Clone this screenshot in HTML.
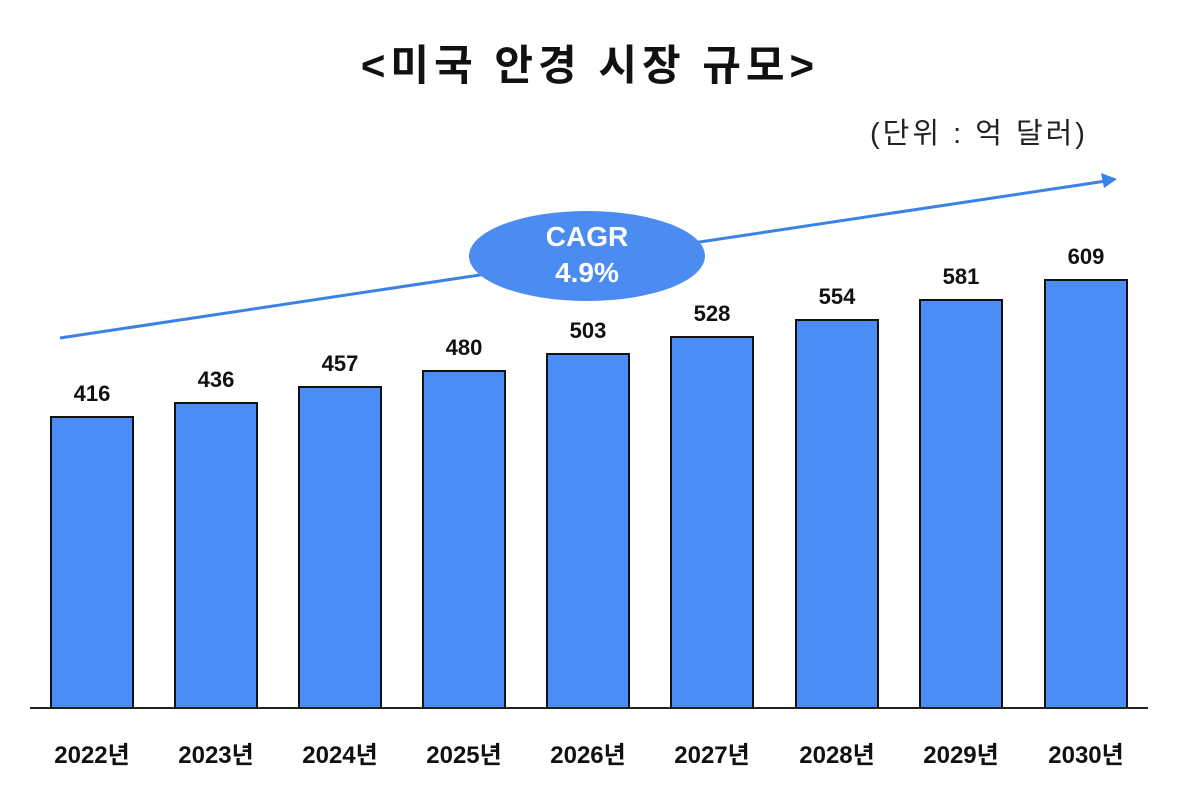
<!DOCTYPE html>
<html><head><meta charset="utf-8"><style>
body{margin:0;background:#fff;}
svg{display:block;font-family:"Liberation Sans","Noto Sans CJK KR",sans-serif;}
</style></head><body>
<svg width="1181" height="793" viewBox="0 0 1181 793">
<text x="590" y="80" text-anchor="middle" font-size="42" font-weight="bold" fill="#111" letter-spacing="5">&lt;미국 안경 시장 규모&gt;</text>
<text x="979" y="143" text-anchor="middle" font-size="29" fill="#222" letter-spacing="3">(단위 : 억 달러)</text>
<line x1="60" y1="338" x2="1106" y2="181" stroke="#3b82e8" stroke-width="3"/>
<polygon points="1117,179 1101,173 1104,188" fill="#3b82e8"/>
<ellipse cx="587" cy="256" rx="118" ry="45" fill="#4a8cf0"/>
<text x="587" y="246" text-anchor="middle" font-size="28" font-weight="bold" fill="#fff">CAGR</text>
<text x="587" y="282" text-anchor="middle" font-size="28" font-weight="bold" fill="#fff">4.9%</text>
<g fill="#4a8df7" stroke="#111" stroke-width="2">
<rect x="51" y="417" width="82" height="291"/>
<rect x="175" y="403" width="82" height="305"/>
<rect x="299" y="387" width="82" height="321"/>
<rect x="423" y="371" width="82" height="337"/>
<rect x="547" y="354" width="82" height="354"/>
<rect x="671" y="337" width="82" height="371"/>
<rect x="796" y="320" width="82" height="388"/>
<rect x="920" y="300" width="82" height="408"/>
<rect x="1045" y="280" width="82" height="428"/>
</g>
<line x1="30" y1="708" x2="1148" y2="708" stroke="#222" stroke-width="2"/>
<g font-size="22" font-weight="bold" fill="#111" text-anchor="middle">
<text x="92" y="401">416</text>
<text x="216" y="387">436</text>
<text x="340" y="371">457</text>
<text x="464" y="355">480</text>
<text x="588" y="338">503</text>
<text x="712" y="321">528</text>
<text x="837" y="304">554</text>
<text x="961" y="284">581</text>
<text x="1086" y="264">609</text>
</g>
<g font-size="24" font-weight="bold" fill="#111" text-anchor="middle">
<text x="92" y="763">2022년</text>
<text x="216" y="763">2023년</text>
<text x="340" y="763">2024년</text>
<text x="464" y="763">2025년</text>
<text x="588" y="763">2026년</text>
<text x="712" y="763">2027년</text>
<text x="837" y="763">2028년</text>
<text x="961" y="763">2029년</text>
<text x="1086" y="763">2030년</text>
</g>
</svg>
</body></html>
